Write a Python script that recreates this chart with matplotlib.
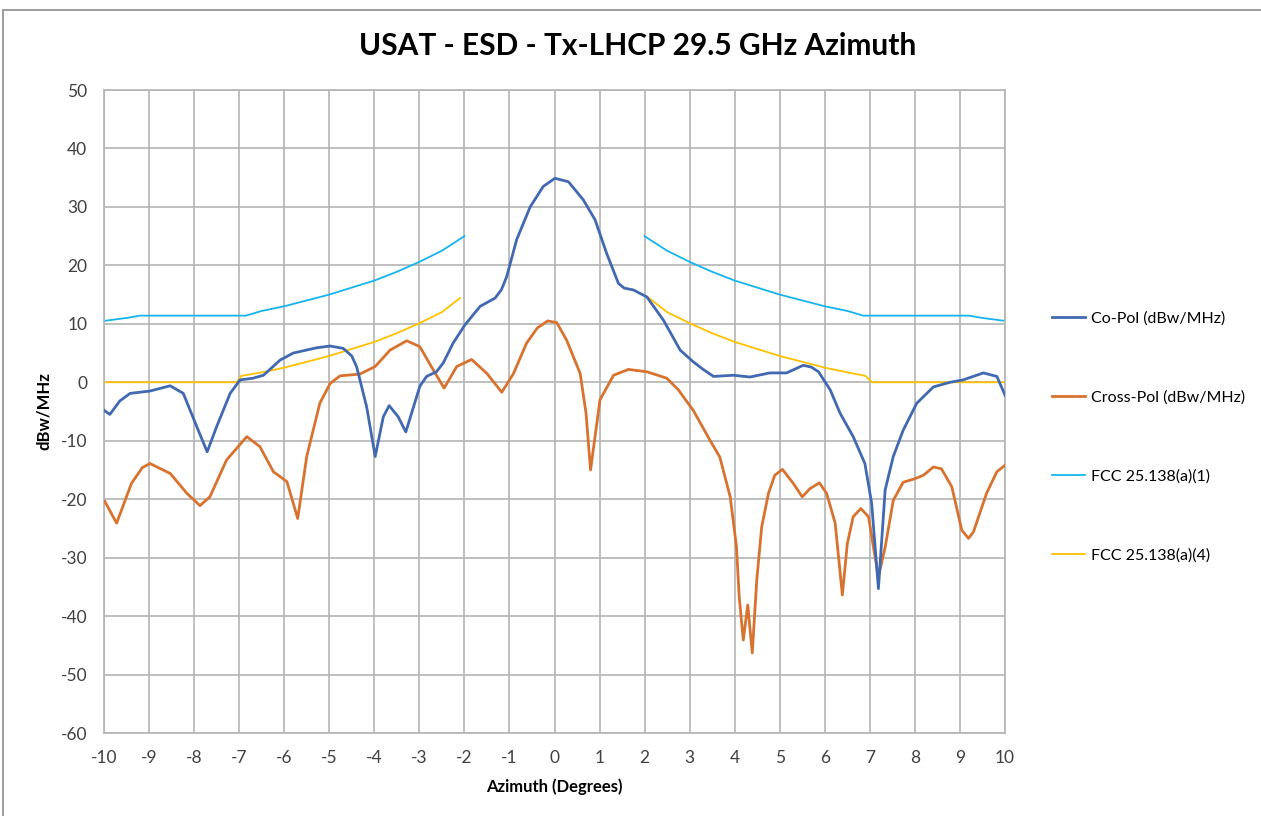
import matplotlib
matplotlib.use("Agg")
import matplotlib.pyplot as plt
from matplotlib.patches import Rectangle

plt.rcParams['font.family'] = ['Lato', 'DejaVu Sans']
plt.rcParams['axes.unicode_minus'] = False

# Co-Pol (dBw/MHz)
co_x = [-10.0, -9.87, -9.65, -9.42, -8.98, -8.53, -8.24, -7.94, -7.71, -7.50, -7.20,
        -6.98, -6.69, -6.46, -6.09, -5.80, -5.28, -4.98, -4.69, -4.50, -4.39, -4.17,
        -3.98, -3.80, -3.67, -3.47, -3.30, -2.99, -2.84, -2.62, -2.47, -2.25,
        -1.99, -1.65, -1.32, -1.18, -1.06, -0.84, -0.54, -0.25, 0.01, 0.31, 0.64,
        0.90, 1.16, 1.42, 1.55, 1.75, 2.05, 2.42, 2.79, 3.08, 3.30, 3.53, 3.97,
        4.34, 4.78, 5.15, 5.52, 5.70, 5.86, 6.12, 6.34, 6.63, 6.89, 7.04,
        7.19, 7.34, 7.52, 7.74, 8.04, 8.41, 8.78, 9.07, 9.52, 9.82, 10.0]
co_y = [-4.8, -5.5, -3.2, -1.9, -1.5, -0.6, -1.9, -7.6, -11.9, -7.6, -1.9,
        0.4, 0.7, 1.2, 3.8, 5.0, 5.9, 6.2, 5.8, 4.5, 2.6, -4.2,
        -12.7, -5.9, -4.0, -5.9, -8.5, -0.7, 1.0, 1.8, 3.3, 6.7,
        9.8, 13.0, 14.4, 15.8, 18.1, 24.4, 30.0, 33.5, 34.9, 34.3, 31.2,
        27.8, 22.0, 16.9, 16.1, 15.8, 14.6, 10.6, 5.5, 3.5, 2.2, 1.0, 1.2,
        0.9, 1.6, 1.6, 2.9, 2.6, 1.8, -1.3, -5.3, -9.3, -13.9, -20.7,
        -35.3, -18.4, -12.7, -8.2, -3.6, -0.8, 0.0, 0.4, 1.6, 1.0, -2.2]

# Cross-Pol (dBw/MHz)
cx_x = [-9.98, -9.72, -9.39, -9.15, -8.98, -8.53, -8.16, -7.87, -7.65, -7.28, -6.83,
        -6.54, -6.24, -5.94, -5.70, -5.50, -5.21, -4.98, -4.76, -4.32, -3.98,
        -3.65, -3.28, -2.99, -2.69, -2.45, -2.17, -1.84, -1.50, -1.17, -0.91,
        -0.62, -0.38, -0.15, 0.05, 0.27, 0.57, 0.70, 0.80, 1.01, 1.31, 1.64, 2.05,
        2.49, 2.75, 3.08, 3.45, 3.67, 3.90, 4.04, 4.10, 4.19, 4.29,
        4.39, 4.49, 4.60, 4.75, 4.89, 5.06, 5.30, 5.50, 5.67, 5.88,
        6.04, 6.23, 6.39, 6.50, 6.63, 6.80, 6.97, 7.08, 7.19, 7.34,
        7.52, 7.74, 8.00, 8.19, 8.41, 8.59, 8.82, 9.04, 9.19, 9.30,
        9.59, 9.82, 10.0]
cx_y = [-20.4, -24.1, -17.3, -14.6, -13.9, -15.6, -19.0, -21.1, -19.6, -13.3, -9.3,
        -11.0, -15.3, -17.0, -23.3, -12.7, -3.6, -0.2, 1.1, 1.4, 2.7,
        5.5, 7.1, 6.1, 2.1, -1.0, 2.7, 3.9, 1.5, -1.7, 1.5,
        6.7, 9.3, 10.5, 10.2, 7.2, 1.5, -5.3, -15.0, -3.0, 1.2, 2.2, 1.8,
        0.7, -1.3, -4.8, -9.9, -12.8, -19.6, -28.2, -36.7, -44.1, -38.1,
        -46.3, -33.8, -24.7, -19.0, -15.9, -14.9, -17.3, -19.6, -18.2, -17.2,
        -19.0, -24.1, -36.4, -27.6, -23.0, -21.6, -23.0, -28.2, -33.3, -28.2,
        -20.2, -17.1, -16.5, -15.9, -14.5, -14.8, -17.9, -25.3, -26.7, -25.6,
        -19.0, -15.3, -14.2]

# FCC 25.138(a)(1) mask, left and right parts
fcc1_lx = [-10.0, -9.5, -9.2, -9.0, -8.0, -7.0, -6.85, -6.5, -6.0, -5.5,
           -5.0, -4.5, -4.0, -3.5, -3.0, -2.5, -2.0]
fcc1_ly = [10.5, 11.0, 11.4, 11.4, 11.4, 11.4, 11.4, 12.2, 13.0, 14.0,
           15.0, 16.2, 17.4, 18.9, 20.6, 22.5, 25.0]
fcc1_rx = [2.0, 2.5, 3.0, 3.5, 4.0, 4.5, 5.0, 5.5, 6.0, 6.5,
           6.85, 7.0, 8.0, 9.0, 9.2, 9.5, 10.0]
fcc1_ry = [25.0, 22.5, 20.6, 18.9, 17.4, 16.2, 15.0, 14.0, 13.0, 12.2,
           11.4, 11.4, 11.4, 11.4, 11.4, 11.0, 10.5]

# FCC 25.138(a)(4) mask
fcc4_lx = [-10.0, -9.0, -8.0, -7.05, -6.95, -6.5, -6.0, -5.5, -5.0, -4.5,
           -4.0, -3.5, -3.0, -2.5, -2.1]
fcc4_ly = [0.0, 0.0, 0.0, 0.0, 1.1, 1.7, 2.5, 3.5, 4.5, 5.7,
           6.9, 8.4, 10.1, 12.0, 14.4]
fcc4_rx = [2.08, 2.5, 3.0, 3.5, 4.0, 4.5, 5.0, 5.5, 6.0, 6.5,
           6.9, 7.05, 8.0, 9.0, 10.0]
fcc4_ry = [14.5, 12.0, 10.1, 8.4, 6.9, 5.7, 4.5, 3.5, 2.5, 1.7,
           1.1, 0.0, 0.0, 0.0, 0.0]

fig = plt.figure(figsize=(12.61, 8.16), dpi=100)
ax = fig.add_axes([104 / 1261, 1 - 733 / 816, 901 / 1261, 643 / 816])

ax.plot(co_x, co_y, color="#4169B2", lw=2.0, label="Co-Pol (dBw/MHz)", zorder=4)
ax.plot(cx_x, cx_y, color="#D8722F", lw=2.0, label="Cross-Pol (dBw/MHz)", zorder=3)
ax.plot(fcc1_lx, fcc1_ly, color="#16B4EC", lw=1.3, label="FCC 25.138(a)(1)", zorder=2)
ax.plot(fcc1_rx, fcc1_ry, color="#16B4EC", lw=1.3, zorder=2)
ax.plot(fcc4_lx, fcc4_ly, color="#FFC000", lw=1.3, label="FCC 25.138(a)(4)", zorder=2)
ax.plot(fcc4_rx, fcc4_ry, color="#FFC000", lw=1.3, zorder=2)

ax.set_xlim(-10, 10)
ax.set_ylim(-60, 50)
ax.set_xticks(range(-10, 11))
ax.set_yticks(range(-60, 51, 10))
ax.tick_params(axis="x", length=0, labelsize=12.5, colors="#404040", pad=12)
ax.tick_params(axis="y", length=0, labelsize=12.5, colors="#404040", pad=12)
ax.grid(True, color="#B4B4B4", lw=1.2)
ax.set_axisbelow(True)
for s in ax.spines.values():
    s.set_color("#B4B4B4")
    s.set_linewidth(1.2)

ax.set_xlabel("Azimuth (Degrees)", fontsize=12, fontweight="bold", labelpad=9)
ax.set_ylabel("dBw/MHz", fontsize=12, fontweight="bold", labelpad=6)
fig.text(638 / 1261, 1 - 46 / 816, "USAT - ESD - Tx-LHCP 29.5 GHz Azimuth",
         ha="center", va="center", fontsize=21.5, fontweight="bold")

ax.legend(loc="center left", bbox_to_anchor=(1.036, 0.46), frameon=False,
          fontsize=11.5, labelspacing=4.05, handlelength=2.1, handletextpad=0.35)

fig.patches.append(Rectangle((3 / 1261, -0.01), 1.0, 1 - 10 / 816 + 0.01,
                             transform=fig.transFigure, fill=False,
                             edgecolor="#8C8C8C", lw=1.2))

fig.savefig("out.png", dpi=100)
